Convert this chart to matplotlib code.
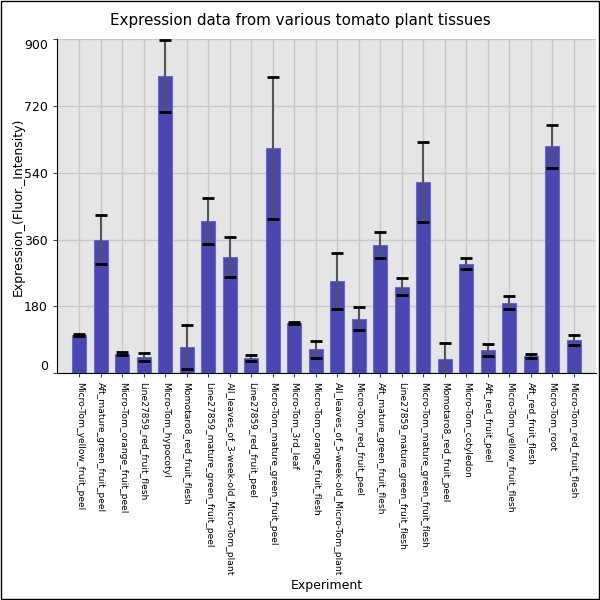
import matplotlib
matplotlib.use('Agg')
import matplotlib.pyplot as plt

tissues = [
    'Micro-Tom_yellow_fruit_peel',
    'Aft_mature_green_fruit_peel',
    'Micro-Tom_orange_fruit_peel',
    'Line27859_red_fruit_flesh',
    'Micro-Tom_hypocotyl',
    'Momotaro8_red_fruit_flesh',
    'Line27859_mature_green_fruit_peel',
    'All_leaves_of_3-week-old_Micro-Tom_plant',
    'Line27859_red_fruit_peel',
    'Micro-Tom_mature_green_fruit_peel',
    'Micro-Tom_3rd_leaf',
    'Micro-Tom_orange_fruit_flesh',
    'All_leaves_of_5-week-old_Micro-Tom_plant',
    'Micro-Tom_red_fruit_peel',
    'Aft_mature_green_fruit_flesh',
    'Line27859_mature_green_fruit_flesh',
    'Micro-Tom_mature_green_fruit_flesh',
    'Momotaro8_red_fruit_peel',
    'Micro-Tom_cotyledon',
    'Aft_red_fruit_peel',
    'Micro-Tom_yellow_fruit_flesh',
    'Aft_red_fruit_flesh',
    'Micro-Tom_root',
    'Micro-Tom_red_fruit_flesh',
]
expression = [103, 360, 52, 44, 800, 70, 410, 314, 40, 606, 136, 65,
              248, 146, 344, 233, 515, 37, 295, 62, 190, 47, 611, 90]
errors = [2, 65, 4, 10, 96, 59, 62, 54, 8, 192, 3, 23,
          76, 31, 35, 23, 108, 43, 14, 16, 18, 6, 58, 13]
yticks = [0, 180, 360, 540, 720, 900]


def main():
    fig = plt.figure(figsize=(6, 6), dpi=100)
    ax = fig.add_axes([0.095, 0.378, 0.898, 0.557])
    ax.set_facecolor('#e5e5e5')
    ax.set_axisbelow(True)
    ax.grid(color='#c8c8c8', linewidth=1)

    x = list(range(len(tissues)))
    ax.bar(x, expression, width=0.65, color='#4a46b2',
           edgecolor='#6c69c4', linewidth=0.8, zorder=2)
    ax.errorbar(x, expression, yerr=errors, fmt='none', ecolor='#555555',
                elinewidth=1.5, capsize=0, zorder=3)
    # black caps
    ax.errorbar(x, expression, yerr=errors, fmt='none', ecolor='black',
                elinewidth=0, capsize=4.6, capthick=2, zorder=4)

    ax.set_xlim(-1.04, 24.02)
    ax.set_ylim(0, 900)
    ax.set_xticks(x)
    ax.set_xticklabels(tissues, rotation=-90, fontsize=6.6)
    ax.set_yticks(yticks)
    labels = ax.set_yticklabels([str(v) for v in yticks], fontsize=9)
    labels[0].set_va('bottom')
    labels[-1].set_va('top')
    ax.tick_params(axis='both', length=3, color='#444444')

    ax.spines['top'].set_visible(False)
    ax.spines['right'].set_visible(False)

    fig.text(0.03, 0.655, 'Expression_(Fluor._Intensity)', rotation=90,
             ha='center', va='center', fontsize=9)
    fig.text(0.545, 0.025, 'Experiment', ha='center', va='center', fontsize=9)
    fig.text(0.5, 0.965, 'Expression data from various tomato plant tissues',
             ha='center', va='center', fontsize=10.9)
    fig.patches.append(plt.Rectangle((0.002, 0.002), 0.996, 0.996,
                                     transform=fig.transFigure, fill=False,
                                     edgecolor='black', linewidth=1))
    fig.savefig('out.png')


if __name__ == '__main__':
    main()
